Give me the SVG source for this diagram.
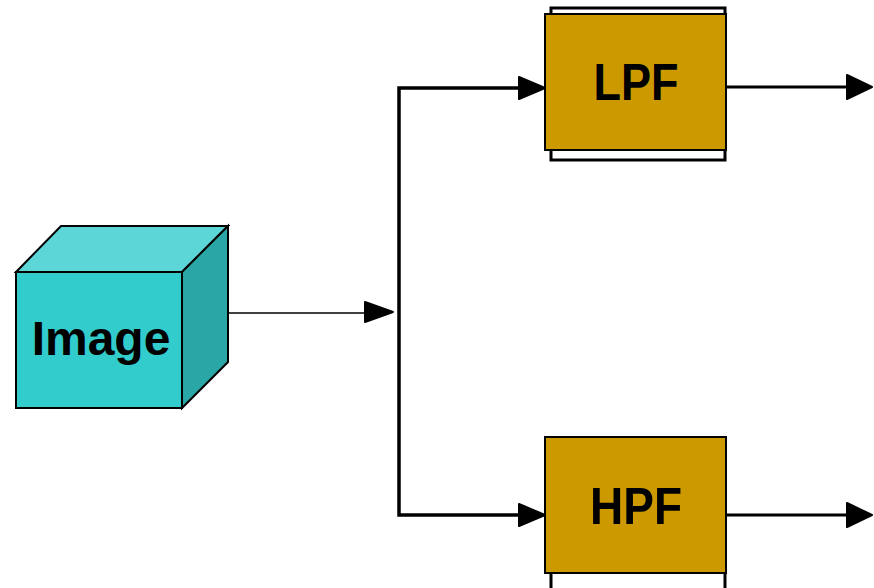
<svg xmlns="http://www.w3.org/2000/svg" width="874" height="588" viewBox="0 0 874 588">
<style>
.lbl{font-family:"Liberation Sans",Arial,sans-serif;font-weight:bold;font-size:48px;fill:#000;text-anchor:middle}
.big{font-size:51px}
.flt{fill:#CC9900;stroke:#000;stroke-width:2}
.shd{fill:#fff;stroke:#000;stroke-width:3}
.ln{fill:none;stroke:#000;stroke-linecap:square}
.ah{fill:#000;stroke:#000;stroke-width:2;stroke-linejoin:round}
</style>
<rect width="874" height="588" fill="#fff"/>
<g id="connectors">
<line class="ln" x1="228" y1="313" x2="370" y2="313" stroke-width="1.5"/>
<polygon class="ah" points="365,302 393,312 365,322"/>
<polyline class="ln" points="520,88 399,88 399,515 520,515" stroke-width="3.5"/>
<polygon class="ah" points="519,77 545,88 519,99"/>
<polygon class="ah" points="519,504 545,515 519,526"/>
<line class="ln" x1="727" y1="87" x2="850" y2="87" stroke-width="3"/>
<polygon class="ah" points="847,75 872,87 847,99"/>
<line class="ln" x1="727" y1="515" x2="850" y2="515" stroke-width="3"/>
<polygon class="ah" points="847,503 872,515 847,527"/>
</g>
<g id="image">
<polygon points="16,272 61,226 228,226 182,272" fill="#5CD6D6" stroke="#000" stroke-width="2"/>
<polygon points="182,272 228,226 228,362 182,408" fill="#2AA6A6" stroke="#000" stroke-width="2"/>
<rect x="16" y="272" width="166" height="136" fill="#33CCCC" stroke="#000" stroke-width="2"/>
<text class="lbl" x="101" y="355">Image</text>
</g>
<g id="lpf">
<rect class="shd" x="551" y="8" width="174" height="152"/>
<rect class="flt" x="545" y="14" width="181" height="136"/>
<text class="lbl big" x="636" y="100" textLength="85" lengthAdjust="spacingAndGlyphs">LPF</text>
</g>
<g id="hpf">
<rect class="shd" x="551" y="445" width="174" height="150"/>
<rect class="flt" x="545" y="437" width="181" height="136"/>
<text class="lbl big" x="636" y="524" textLength="92" lengthAdjust="spacingAndGlyphs">HPF</text>
</g>
</svg>
